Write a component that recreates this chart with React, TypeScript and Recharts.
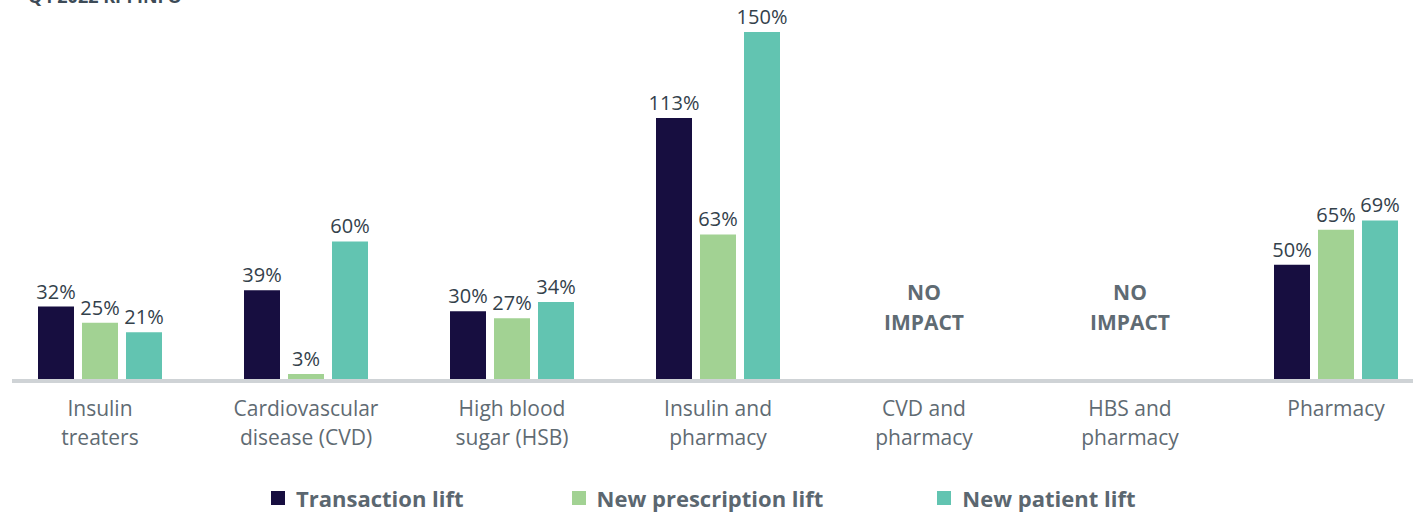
import React from 'react';
import { BarChart, Bar, XAxis, YAxis, LabelList, Legend } from 'recharts';

const categories = [
  'Insulin treaters',
  'Cardiovascular disease (CVD)',
  'High blood sugar (HSB)',
  'Insulin and pharmacy',
  'CVD and pharmacy',
  'HBS and pharmacy',
  'Pharmacy',
];
const tickLines = [
  ['Insulin', 'treaters'],
  ['Cardiovascular', 'disease (CVD)'],
  ['High blood', 'sugar (HSB)'],
  ['Insulin and', 'pharmacy'],
  ['CVD and', 'pharmacy'],
  ['HBS and', 'pharmacy'],
  ['Pharmacy'],
];
const transactionLift: (number | null)[] = [32, 39, 30, 113, null, null, 50];
const newPrescriptionLift: (number | null)[] = [25, 3, 27, 63, null, null, 65];
const newPatientLift: (number | null)[] = [21, 60, 34, 150, null, null, 69];
const noImpactCategories = ['CVD and pharmacy', 'HBS and pharmacy'];
const noImpactLines = ['NO', 'IMPACT'];
const seriesNames = ['Transaction lift', 'New prescription lift', 'New patient lift'];
const seriesColors = ['#170e40', '#a2d293', '#62c4b1'];
const titleText = 'Q4 2022 KPI INFO';

const data = categories.map((c, i) => ({
  category: c,
  transaction: transactionLift[i],
  prescription: newPrescriptionLift[i],
  patient: newPatientLift[i],
}));

const FONT = '"Open Sans", "Noto Sans", sans-serif';

const Tick = (props: any) => {
  const { x, y, payload } = props;
  const idx = categories.indexOf(payload.value);
  const lines = tickLines[idx] || [payload.value];
  const isNoImpact = noImpactCategories.includes(payload.value);
  return (
    <g>
      {lines.map((l, i) => (
        <text
          key={i}
          x={x}
          y={y + 35 + i * 29}
          textAnchor="middle"
          fontFamily={FONT}
          fontSize={21}
          fill="#5f6b73"
        >
          {l}
        </text>
      ))}
      {isNoImpact &&
        noImpactLines.map((l, i) => (
          <text
            key={'n' + i}
            x={x}
            y={y - 81 + i * 30}
            textAnchor="middle"
            fontFamily={FONT}
            fontSize={21}
            fontWeight={700}
            fill="#5f6b73"
          >
            {l}
          </text>
        ))}
    </g>
  );
};

const fmt = (v: any) => (v === null || v === undefined ? '' : `${v}%`);

const LegendContent = () => (
  <div
    style={{
      display: 'flex',
      alignItems: 'center',
      paddingLeft: 271,
      fontFamily: FONT,
      fontWeight: 700,
      fontSize: 22,
      lineHeight: '24px',
      color: '#5b6770',
      whiteSpace: 'nowrap',
    }}
  >
    {seriesNames.map((n, i) => (
      <div
        key={n}
        style={{ display: 'flex', alignItems: 'center', flexShrink: 0, marginRight: i === 0 ? 108 : 114 }}
      >
        <span
          style={{
            display: 'inline-block',
            width: 14,
            height: 14,
            background: seriesColors[i],
            marginRight: 11,
          }}
        />
        <span>{n}</span>
      </div>
    ))}
  </div>
);

export default function App() {
  return (
    <div style={{ position: 'absolute', left: 0, top: 0, width: 1413, height: 515, overflow: 'hidden' }}>
      <div
        style={{
          position: 'absolute',
          left: 28,
          top: -16,
          fontFamily: FONT,
          fontWeight: 700,
          fontSize: 18,
          lineHeight: 'normal',
          color: '#3d4b57',
          whiteSpace: 'nowrap',
        }}
      >
        {titleText}
      </div>
      <BarChart
        width={1413}
        height={515}
        data={data}
        margin={{ top: 32, right: 0, bottom: 74, left: 12 }}
        barSize={36}
        barGap={8}
      >
        <XAxis
          dataKey="category"
          interval={0}
          height={60}
          tickLine={false}
          tickSize={0}
          tickMargin={0}
          axisLine={{ stroke: '#cfd3d6', strokeWidth: 4 }}
          padding={{ left: -15, right: -26 }}
          tick={<Tick />}
        />
        <YAxis hide domain={[0, 150]} />
        <Legend
          verticalAlign="middle"
          align="center"
          layout="horizontal"
          content={<LegendContent />}
          wrapperStyle={{ top: 486, left: 0, width: 1413 }}
        />
        <Bar dataKey="transaction" name={seriesNames[0]} fill={seriesColors[0]} isAnimationActive={false}>
          <LabelList dataKey="transaction" position="top" offset={8} formatter={fmt} fontFamily={FONT} fontSize={20} fill="#33414b" />
        </Bar>
        <Bar dataKey="prescription" name={seriesNames[1]} fill={seriesColors[1]} isAnimationActive={false}>
          <LabelList dataKey="prescription" position="top" offset={8} formatter={fmt} fontFamily={FONT} fontSize={20} fill="#33414b" />
        </Bar>
        <Bar dataKey="patient" name={seriesNames[2]} fill={seriesColors[2]} isAnimationActive={false}>
          <LabelList dataKey="patient" position="top" offset={8} formatter={fmt} fontFamily={FONT} fontSize={20} fill="#33414b" />
        </Bar>
      </BarChart>
    </div>
  );
}
